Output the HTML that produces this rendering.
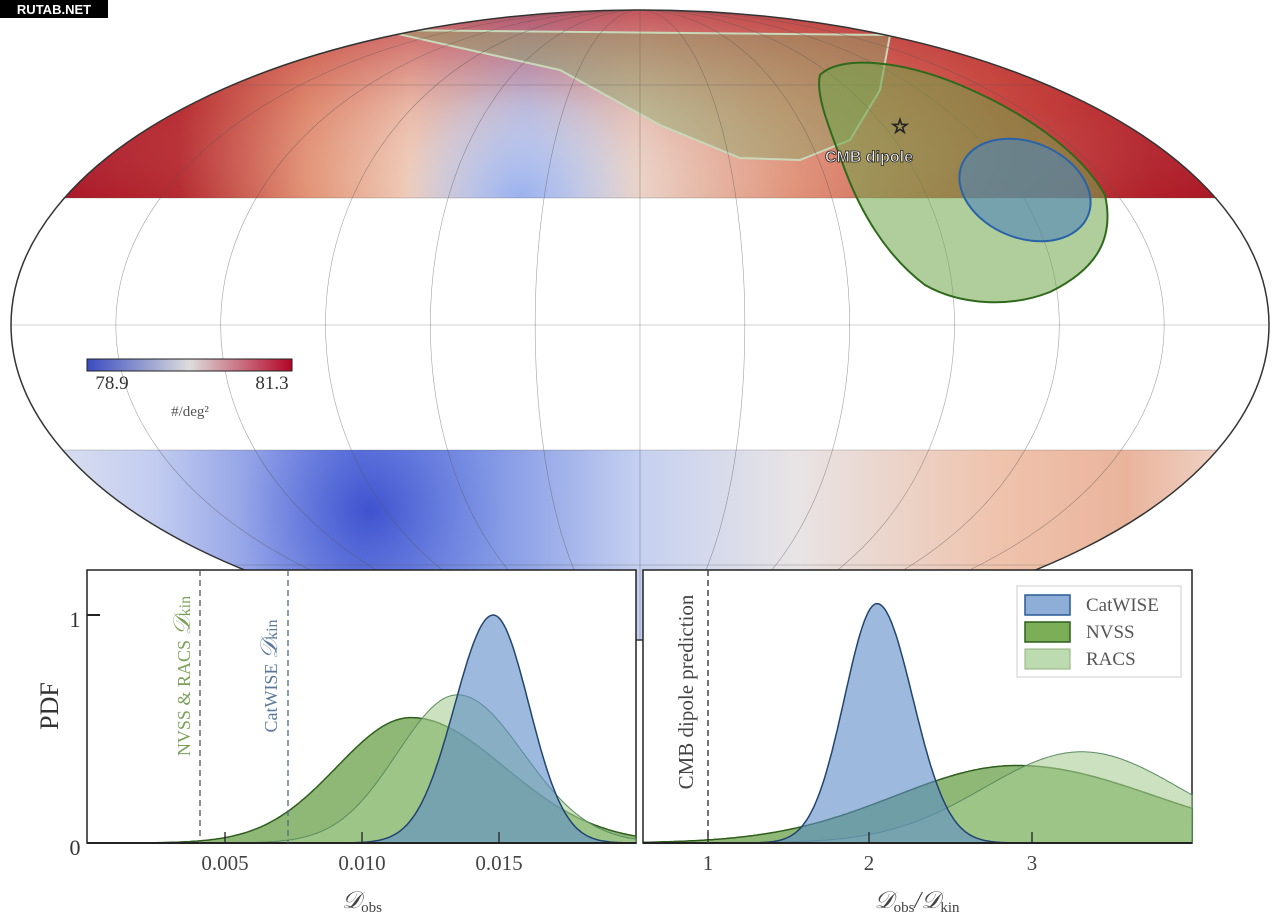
<!DOCTYPE html>
<html><head><meta charset="utf-8">
<style>
html,body{margin:0;padding:0;background:#fff;}
svg{display:block;}
text{font-family:"Liberation Serif",serif;}
</style></head>
<body>
<svg id="s" width="1280" height="924" viewBox="0 0 1280 924" xmlns="http://www.w3.org/2000/svg">
<defs>
<clipPath id="ell"><ellipse cx="640" cy="325" rx="629" ry="315"/></clipPath>
<linearGradient id="topg" x1="0" x2="1" y1="0" y2="0">
<stop offset="0" stop-color="#a50f25"/>
<stop offset="0.14" stop-color="#b52a30"/>
<stop offset="0.24" stop-color="#e29376"/>
<stop offset="0.32" stop-color="#efcbb8"/>
<stop offset="0.41" stop-color="#b9c8f0"/>
<stop offset="0.5" stop-color="#ead2c6"/>
<stop offset="0.62" stop-color="#e0937a"/>
<stop offset="0.78" stop-color="#c84840"/>
<stop offset="0.9" stop-color="#b0202a"/>
<stop offset="1" stop-color="#a50f1f"/>
</linearGradient>
<linearGradient id="topv" x1="0" x2="0" y1="0" y2="1">
<stop offset="0" stop-color="#b01c2a" stop-opacity="0.75"/>
<stop offset="0.55" stop-color="#c84a44" stop-opacity="0.15"/>
<stop offset="1" stop-color="#ffffff" stop-opacity="0"/>
</linearGradient>
<radialGradient id="bluespot" cx="520" cy="200" r="120" gradientUnits="userSpaceOnUse">
<stop offset="0" stop-color="#9ab0ee"/>
<stop offset="1" stop-color="#c9d3ef" stop-opacity="0"/>
</radialGradient>
<linearGradient id="botg" x1="0" x2="1" y1="0" y2="0">
<stop offset="0" stop-color="#e6e8ee"/>
<stop offset="0.12" stop-color="#c3cdf0"/>
<stop offset="0.28" stop-color="#5d72dc"/>
<stop offset="0.38" stop-color="#7f95e4"/>
<stop offset="0.5" stop-color="#c5d0f0"/>
<stop offset="0.62" stop-color="#e8e4e6"/>
<stop offset="0.78" stop-color="#efc3ad"/>
<stop offset="0.88" stop-color="#eab49c"/>
<stop offset="1" stop-color="#f1e4de"/>
</linearGradient>
<radialGradient id="darkspot" cx="370" cy="510" r="130" gradientUnits="userSpaceOnUse">
<stop offset="0" stop-color="#3f52cf"/>
<stop offset="1" stop-color="#6c82e0" stop-opacity="0"/>
</radialGradient>
<linearGradient id="cbar" x1="0" x2="1">
<stop offset="0" stop-color="#3a4cc0"/>
<stop offset="0.5" stop-color="#dcdcdc"/>
<stop offset="1" stop-color="#b40426"/>
</linearGradient>
</defs>

<g clip-path="url(#ell)">
<rect x="0" y="0" width="1280" height="198" fill="url(#topg)"/>
<rect x="0" y="0" width="1280" height="198" fill="url(#topv)"/>
<rect x="0" y="0" width="1280" height="198" fill="url(#bluespot)"/>
<rect x="0" y="450" width="1280" height="200" fill="url(#botg)"/>
<rect x="0" y="450" width="1280" height="200" fill="url(#darkspot)"/>
<path d="M380,30 L890,35 L880,90 L850,140 L800,160 L740,158 L660,125 L560,70 Z" fill="#8aa86a" fill-opacity="0.45" stroke="#c8d8b8" stroke-width="2"/>
<g id="grid" fill="none" stroke="#555" stroke-width="0.6" stroke-opacity="0.55"></g>
</g>
<ellipse cx="640" cy="325" rx="629" ry="315" fill="none" stroke="#333" stroke-width="1.5"/>

<path d="M820,75 C840,55 900,60 960,85 C1020,110 1080,150 1105,195 C1115,240 1095,270 1050,292 C1010,308 960,305 925,285 C885,255 860,210 845,170 C830,130 815,95 820,75 Z" fill="#6fa54a" fill-opacity="0.55" stroke="#2f6a1c" stroke-width="2"/>
<ellipse cx="1025" cy="190" rx="68" ry="48" transform="rotate(22 1025 190)" fill="#4f86b8" fill-opacity="0.6" stroke="#2a62a8" stroke-width="2"/>
<text x="900" y="133" font-size="20" text-anchor="middle" fill="#fff" stroke="#222" stroke-width="1">☆</text>
<text x="869" y="162" font-size="16" text-anchor="middle" fill="#eee" stroke="#222" stroke-width="0.8" font-weight="bold" style="font-family:'Liberation Sans',sans-serif">CMB dipole</text>

<rect x="87" y="359" width="205" height="12" fill="url(#cbar)" stroke="#222" stroke-width="1"/>
<text x="112" y="389" font-size="19" text-anchor="middle" fill="#333">78.9</text>
<text x="272" y="389" font-size="19" text-anchor="middle" fill="#333">81.3</text>
<text x="190" y="416" font-size="15" text-anchor="middle" fill="#555">#/deg²</text>

<!-- panels -->
<rect x="87" y="570" width="549" height="273" fill="#fff" stroke="#222" stroke-width="1.5"/>
<rect x="643" y="570" width="549" height="273" fill="#fff" stroke="#222" stroke-width="1.5"/>
<g id="curves"></g>
<line x1="87" y1="843" x2="636" y2="843" stroke="#222" stroke-width="2"/>
<line x1="643" y1="843" x2="1192" y2="843" stroke="#222" stroke-width="2"/>
<g stroke="#222" stroke-width="1.3">
<line x1="225" y1="843" x2="225" y2="832"/><line x1="362" y1="843" x2="362" y2="832"/><line x1="499" y1="843" x2="499" y2="832"/>
<line x1="708" y1="843" x2="708" y2="832"/><line x1="869" y1="843" x2="869" y2="832"/><line x1="1032" y1="843" x2="1032" y2="832"/>
</g>
<line x1="200" y1="570" x2="200" y2="843" stroke="#555" stroke-dasharray="6,4" stroke-width="1.3"/>
<line x1="288" y1="570" x2="288" y2="843" stroke="#4a6c86" stroke-dasharray="6,4" stroke-width="1.3"/>
<line x1="708" y1="570" x2="708" y2="843" stroke="#444" stroke-dasharray="6,4" stroke-width="1.5"/>
<line x1="87" y1="615" x2="100" y2="615" stroke="#222" stroke-width="2"/>
<text x="75" y="627" font-size="22" text-anchor="middle" fill="#333">1</text>
<text x="75" y="855" font-size="22" text-anchor="middle" fill="#333">0</text>
<text transform="translate(58 706) rotate(-90)" font-size="26" text-anchor="middle" fill="#333">PDF</text>
<text x="225" y="870" font-size="21" text-anchor="middle" fill="#444">0.005</text>
<text x="362" y="870" font-size="21" text-anchor="middle" fill="#444">0.010</text>
<text x="499" y="870" font-size="21" text-anchor="middle" fill="#444">0.015</text>
<text x="362" y="908" font-size="24" text-anchor="middle" fill="#444" font-style="italic">𝒟<tspan font-size="15" dy="4" font-style="normal">obs</tspan></text>
<text transform="translate(190 676) rotate(-90)" font-size="18" text-anchor="middle" fill="#7aa05a">NVSS &amp; RACS <tspan font-size="24" font-style="italic">𝒟</tspan><tspan font-size="16">kin</tspan></text>
<text transform="translate(277 676) rotate(-90)" font-size="18" text-anchor="middle" fill="#5a7a98">CatWISE <tspan font-size="24" font-style="italic">𝒟</tspan><tspan font-size="16">kin</tspan></text>
<text transform="translate(693 692) rotate(-90)" font-size="21" text-anchor="middle" fill="#444">CMB dipole prediction</text>
<text x="708" y="870" font-size="21" text-anchor="middle" fill="#444">1</text>
<text x="869" y="870" font-size="21" text-anchor="middle" fill="#444">2</text>
<text x="1032" y="870" font-size="21" text-anchor="middle" fill="#444">3</text>
<text x="917" y="908" font-size="24" text-anchor="middle" fill="#444" font-style="italic">𝒟<tspan font-size="15" dy="4" font-style="normal">obs</tspan><tspan dy="-4">/𝒟</tspan><tspan font-size="15" dy="4" font-style="normal">kin</tspan></text>

<rect x="1017" y="586" width="164" height="91" fill="#fff" stroke="#ccc"/>
<rect x="1025" y="595" width="45" height="20" fill="#8eaed8" stroke="#2a5a95" stroke-width="1.5"/>
<rect x="1025" y="622" width="45" height="20" fill="#7cae58" stroke="#2f5d1e" stroke-width="1.5"/>
<rect x="1025" y="649" width="45" height="20" fill="#bcdbb0" stroke="#8fb07a" stroke-width="1"/>
<text x="1086" y="611" font-size="19" fill="#555">CatWISE</text>
<text x="1086" y="638" font-size="19" fill="#555">NVSS</text>
<text x="1086" y="665" font-size="19" fill="#555">RACS</text>

<rect x="0" y="0" width="108" height="18" fill="#000"/>
<text x="54" y="14" font-size="13" text-anchor="middle" fill="#fff" font-weight="bold" style="font-family:'Liberation Sans',sans-serif">RUTAB.NET</text>
</svg>
<script>
var NS="http://www.w3.org/2000/svg";
var g=document.getElementById('grid');
for(var k=1;k<=5;k++){var rx=629*k/6;
 var e=document.createElementNS(NS,'ellipse');e.setAttribute('cx',640);e.setAttribute('cy',325);e.setAttribute('rx',rx);e.setAttribute('ry',315);g.appendChild(e);}
var l=document.createElementNS(NS,'line');l.setAttribute('x1',640);l.setAttribute('x2',640);l.setAttribute('y1',0);l.setAttribute('y2',650);g.appendChild(l);
[85,198,325,450,565].forEach(function(y){var l=document.createElementNS(NS,'line');l.setAttribute('x1',0);l.setAttribute('x2',1280);l.setAttribute('y1',y);l.setAttribute('y2',y);g.appendChild(l);});
function ag(x,m,a,sl,sr){var s=x<m?sl:sr;return a*Math.exp(-0.5*Math.pow((x-m)/s,2));}
var c=document.getElementById('curves');
function draw(x0,x1,px0,f,fill,stroke,op,sw){
 var d="M"+px0(x0)+",843";
 for(var i=0;i<=300;i++){var x=x0+(x1-x0)*i/300;d+=" L"+px0(x).toFixed(1)+","+(843-228*f(x)).toFixed(1);}
 d+=" L"+px0(x1)+",843 Z";
 var p=document.createElementNS(NS,'path');p.setAttribute('d',d);p.setAttribute('fill',fill);p.setAttribute('fill-opacity',op);p.setAttribute('stroke',stroke);p.setAttribute('stroke-width',sw);c.appendChild(p);}
var L=function(x){return 87+x*27450;};
draw(0,0.02,L,function(x){return ag(x,0.0118,0.55,0.0027,0.0034);},'#5f9a3c','#2f5d1e',0.7,1.5);
draw(0,0.02,L,function(x){return ag(x,0.0135,0.65,0.0022,0.0024);},'#a8cd94','#5a8a60',0.6,1);
draw(0,0.02,L,function(x){return ag(x,0.0148,1.0,0.0014,0.0013);},'#5c8cc8','#22446e',0.6,1.5);
var R=function(x){return 708+(x-1)*162.5;};
draw(0.6,3.98,R,function(x){return ag(x,2.9,0.34,0.75,0.85);},'#5f9a3c','#2f5d1e',0.7,1.5);
draw(0.6,3.98,R,function(x){return ag(x,3.3,0.4,0.6,0.6);},'#a8cd94','#5a8a60',0.6,1);
draw(0.6,3.98,R,function(x){return ag(x,2.04,1.05,0.2,0.22);},'#5c8cc8','#22446e',0.6,1.5);
</script>
</body></html>
